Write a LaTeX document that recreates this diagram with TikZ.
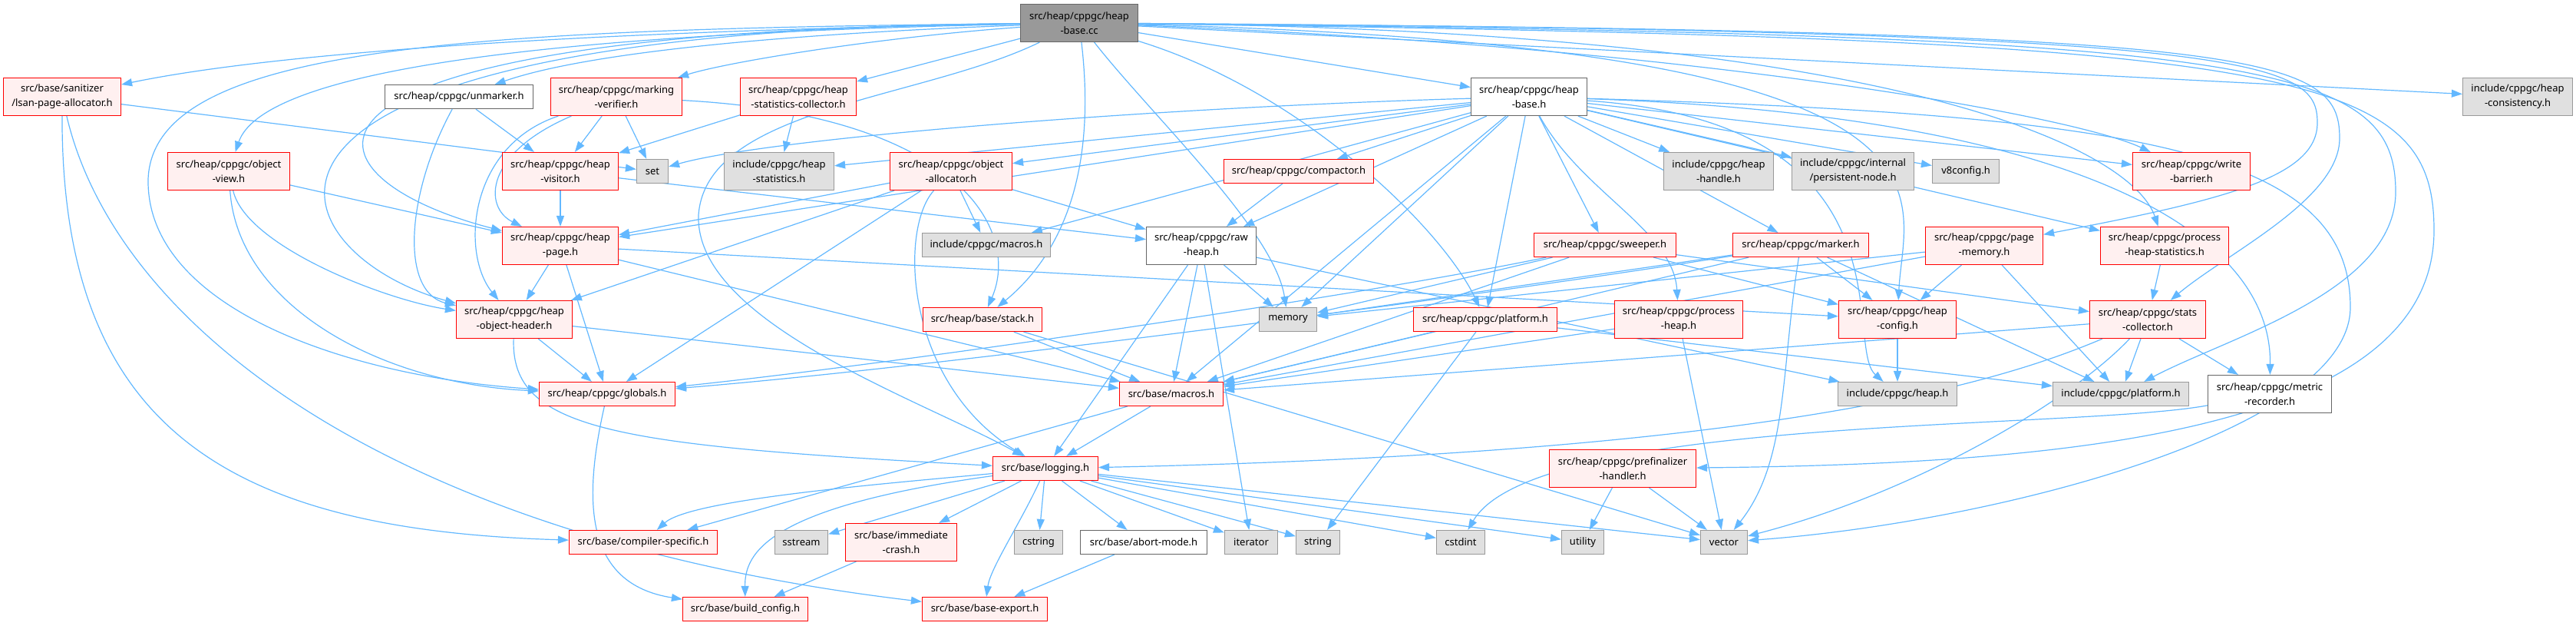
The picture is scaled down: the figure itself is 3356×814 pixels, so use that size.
\documentclass[tikz,border=0pt]{standalone}
\usepackage{fontspec}
\setmainfont{Noto Sans}
\usetikzlibrary{arrows.meta,backgrounds}
\definecolor{edgecol}{RGB}{99,184,255}
\definecolor{redline}{RGB}{255,0,0}
\definecolor{redfill}{RGB}{255,240,240}
\definecolor{grayline}{RGB}{153,153,153}
\definecolor{grayfill}{RGB}{224,224,224}
\definecolor{darkline}{RGB}{102,102,102}
\definecolor{rootfill}{RGB}{153,153,153}

\begin{document}
\begin{tikzpicture}[
  x=1pt, y=-1pt,
  >={Triangle[length=14pt,width=10pt]},
  font=\fontsize{13}{19}\selectfont,
  box/.style={rectangle,inner sep=0pt,align=center,line width=1.2pt,minimum height=31pt},
  tall/.style={minimum height=49pt},
  redbox/.style={box,draw=redline,fill=redfill},
  graybox/.style={box,draw=grayline,fill=grayfill},
  plainbox/.style={box,draw=darkline,fill=white},
  rootbox/.style={box,draw=darkline,fill=rootfill},
  dep/.style={->,draw=edgecol,line width=1.2pt},
]
\useasboundingbox (0,0) rectangle (3356,814);

% --- row 0: the file itself ---
\node[rootbox,tall,minimum width=153pt] (root) at (1406,30) {src/heap/cppgc/heap\\-base.cc};

% --- row 1 ---
\node[redbox,tall,minimum width=153pt]   (lsan)      at (81,126)   {src/base/sanitizer\\/lsan-page-allocator.h};
\node[plainbox,minimum width=193pt]      (unmarker)  at (598,126)  {src/heap/cppgc/unmarker.h};
\node[redbox,tall,minimum width=171pt]   (markver)   at (803,126)  {src/heap/cppgc/marking\\-verifier.h};
\node[redbox,tall,minimum width=151pt]   (hstatcoll) at (1040,126) {src/heap/cppgc/heap\\-statistics-collector.h};
\node[plainbox,tall,minimum width=151pt] (heapbaseh) at (1992,126) {src/heap/cppgc/heap\\-base.h};
\node[graybox,tall,minimum width=143pt]  (consist)   at (3280,126) {include/cppgc/heap\\-consistency.h};

% --- row 2 ---
\node[redbox,tall,minimum width=159pt]   (objview)   at (298,223)  {src/heap/cppgc/object\\-view.h};
\node[redbox,tall,minimum width=151pt]   (hvisitor)  at (730,223)  {src/heap/cppgc/heap\\-visitor.h};
\node[graybox,minimum width=41pt]        (set)       at (850,223)  {set};
\node[graybox,tall,minimum width=143pt]  (hstats)    at (1015,223) {include/cppgc/heap\\-statistics.h};
\node[redbox,tall,minimum width=159pt]   (objalloc)  at (1239,223) {src/heap/cppgc/object\\-allocator.h};
\node[redbox,minimum width=195pt]        (compactor) at (1692,223) {src/heap/cppgc/compactor.h};
\node[graybox,tall,minimum width=143pt]  (hhandle)   at (2239,223) {include/cppgc/heap\\-handle.h};
\node[graybox,tall,minimum width=159pt]  (pnode)     at (2414,223) {include/cppgc/internal\\/persistent-node.h};
\node[graybox,minimum width=87pt]        (v8config)  at (2561,223) {v8config.h};
\node[redbox,tall,minimum width=153pt]   (wbarrier)  at (2855,223) {src/heap/cppgc/write\\-barrier.h};

% --- row 3 ---
\node[redbox,tall,minimum width=151pt]   (hpage)     at (730,320)  {src/heap/cppgc/heap\\-page.h};
\node[graybox,minimum width=167pt]       (cmacros)   at (1285,319) {include/cppgc/macros.h};
\node[plainbox,tall,minimum width=143pt] (rawheap)   at (1565,320) {src/heap/cppgc/raw\\-heap.h};
\node[redbox,minimum width=185pt]        (sweeper)   at (2091,319) {src/heap/cppgc/sweeper.h};
\node[redbox,minimum width=177pt]        (marker)    at (2346,319) {src/heap/cppgc/marker.h};
\node[redbox,tall,minimum width=153pt]   (pagemem)   at (2585,320) {src/heap/cppgc/page\\-memory.h};
\node[redbox,tall,minimum width=167pt]   (phstats)   at (2820,320) {src/heap/cppgc/process\\-heap-statistics.h};

% --- row 4 ---
\node[redbox,tall,minimum width=151pt]   (hoh)       at (670,416)  {src/heap/cppgc/heap\\-object-header.h};
\node[redbox,minimum width=155pt]        (stack)     at (1280,416) {src/heap/base/stack.h};
\node[graybox,minimum width=75pt]        (memory)    at (1678,416) {memory};
\node[redbox,minimum width=187pt]        (cplatform) at (1935,416) {src/heap/cppgc/platform.h};
\node[redbox,tall,minimum width=167pt]   (pheap)     at (2187,416) {src/heap/cppgc/process\\-heap.h};
\node[redbox,tall,minimum width=153pt]   (hconfig)   at (2472,416) {src/heap/cppgc/heap\\-config.h};
\node[redbox,tall,minimum width=151pt]   (statscoll) at (2798,416) {src/heap/cppgc/stats\\-collector.h};

% --- row 5 ---
\node[redbox,minimum width=177pt]        (globals)   at (791,513)  {src/heap/cppgc/globals.h};
\node[redbox,minimum width=135pt]        (bmacros)   at (1526,513) {src/base/macros.h};
\node[graybox,minimum width=155pt]       (iheap)     at (2472,513) {include/cppgc/heap.h};
\node[graybox,minimum width=177pt]       (iplatform) at (2763,513) {include/cppgc/platform.h};
\node[plainbox,tall,minimum width=161pt] (metric)    at (2957,513) {src/heap/cppgc/metric\\-recorder.h};

% --- row 6 ---
\node[redbox,minimum width=137pt]        (logging)   at (1362,610) {src/base/logging.h};
\node[redbox,tall,minimum width=191pt]   (prefin)    at (2114,610) {src/heap/cppgc/prefinalizer\\-handler.h};

% --- row 7 ---
\node[redbox,minimum width=193pt]        (compspec)  at (838,706)  {src/base/compiler-specific.h};
\node[graybox,minimum width=69pt]        (sstream)   at (1044,706) {sstream};
\node[redbox,tall,minimum width=145pt]   (crash)     at (1174,706) {src/base/immediate\\-crash.h};
\node[graybox,minimum width=63pt]        (cstring)   at (1353,706) {cstring};
\node[plainbox,minimum width=165pt]      (abortmode) at (1490,706) {src/base/abort-mode.h};
\node[graybox,minimum width=69pt]        (iterator)  at (1630,706) {iterator};
\node[graybox,minimum width=57pt]        (string)    at (1717,706) {string};
\node[graybox,minimum width=63pt]        (cstdint)   at (1903,706) {cstdint};
\node[graybox,minimum width=55pt]        (utility)   at (2062,706) {utility};
\node[graybox,minimum width=61pt]        (vector)    at (2246,706) {vector};

% --- row 8 ---
\node[redbox,minimum width=163pt]        (buildcfg)  at (971,793)  {src/base/build\_config.h};
\node[redbox,minimum width=163pt]        (bexport)   at (1283,793) {src/base/base-export.h};

\begin{scope}[on background layer]
% includes of heap-base.cc
\draw[dep] (root) .. controls (900,38) and (400,60) .. (lsan);
\draw[dep] (root) .. controls (1000,45) and (760,70) .. (unmarker);
\draw[dep] (root) .. controls (1150,48) and (950,80) .. (markver);
\draw[dep] (root) -- (hstatcoll);
\draw[dep] (root) -- (heapbaseh);
\draw[dep] (root) -- (consist);
\draw[dep] (root) .. controls (650,45) and (340,100) .. (objview);
\draw[dep] (root) .. controls (300,40) and (380,230) .. (hpage);
\draw[dep] (root) .. controls (200,40) and (360,330) .. (hoh);
\draw[dep] (root) .. controls (600,38) and (200,60) .. (193,233) .. controls (190,400) and (450,490) .. (globals);
\draw[dep] (root) .. controls (1200,130) and (920,140) .. (910,280) .. controls (905,420) and (1200,520) .. (logging);
\draw[dep] (root) .. controls (1420,150) and (1420,300) .. (stack);
\draw[dep] (root) .. controls (1500,150) and (1660,300) .. (memory);
\draw[dep] (root) .. controls (1700,120) and (1880,300) .. (cplatform);
\draw[dep] (root) .. controls (2200,60) and (2700,150) .. (wbarrier);
\draw[dep] (root) .. controls (2600,60) and (2480,250) .. (hconfig);
\draw[dep] (root) .. controls (2500,40) and (2780,200) .. (phstats);
\draw[dep] (root) .. controls (2950,40) and (3019,80) .. (3019,160) .. controls (3019,230) and (2900,260) .. (pagemem);
\draw[dep] (root) .. controls (2950,40) and (3048,70) .. (3048,180) .. controls (3048,260) and (2900,330) .. (statscoll);
\draw[dep] (root) .. controls (2950,45) and (3121,80) .. (3121,250) .. controls (3121,380) and (2900,440) .. (iplatform);
\draw[dep] (root) .. controls (3000,50) and (3171,90) .. (3171,300) .. controls (3171,560) and (2700,604) .. (prefin);
% includes of heap-base.h
\draw[dep] (heapbaseh) .. controls (1500,140) and (1000,180) .. (set);
\draw[dep] (heapbaseh) -- (hstats);
\draw[dep] (heapbaseh) -- (objalloc);
\draw[dep] (heapbaseh) -- (compactor);
\draw[dep] (heapbaseh) -- (cmacros);
\draw[dep] (heapbaseh) -- (rawheap);
\draw[dep] (heapbaseh) -- (hpage);
\draw[dep] (heapbaseh) -- (memory);
\draw[dep] (heapbaseh) -- (cplatform);
\draw[dep] (heapbaseh) -- (sweeper);
\draw[dep] (heapbaseh) -- (marker);
\draw[dep] (heapbaseh) .. controls (2060,250) and (2180,300) .. (pheap);
\draw[dep] (heapbaseh) -- (hhandle);
\draw[dep] (heapbaseh) -- (pnode);
\draw[dep] (heapbaseh) -- (v8config);
\draw[dep] (heapbaseh) -- (wbarrier);
\draw[dep] (heapbaseh) -- (phstats);
\draw[dep] (heapbaseh) -- (bmacros);
\draw[dep] (heapbaseh) .. controls (2500,160) and (2400,450) .. (iheap);
\draw[dep] (heapbaseh) .. controls (2700,150) and (2960,300) .. (metric);
\draw[dep] (heapbaseh) .. controls (2800,150) and (3062,200) .. (3062,400) .. controls (3062,560) and (2600,680) .. (vector);
% first level headers
\draw[dep] (lsan) -- (set);
\draw[dep] (lsan) .. controls (80,560) and (300,690) .. (compspec);
\draw[dep] (lsan) .. controls (150,420) and (500,700) .. (bexport);
\draw[dep] (unmarker) -- (hvisitor);
\draw[dep] (unmarker) .. controls (530,250) and (520,380) .. (hoh);
\draw[dep] (markver) -- (hvisitor);
\draw[dep] (markver) -- (set);
\draw[dep] (markver) .. controls (630,200) and (630,270) .. (hpage);
\draw[dep] (markver) .. controls (610,190) and (600,330) .. (hoh);
\draw[dep] (markver) .. controls (1250,150) and (1330,300) .. (stack);
\draw[dep] (hstatcoll) -- (hstats);
\draw[dep] (hstatcoll) -- (hvisitor);
\draw[dep] (objview) -- (hpage);
\draw[dep] (objview) .. controls (320,320) and (500,390) .. (hoh);
\draw[dep] (objview) .. controls (310,400) and (500,500) .. (globals);
\draw[dep] (hvisitor) -- (hpage);
\draw[dep] (hvisitor) -- (rawheap);
\draw[dep] (objalloc) -- (hpage);
\draw[dep] (objalloc) -- (hoh);
\draw[dep] (objalloc) -- (globals);
\draw[dep] (objalloc) .. controls (1170,300) and (1180,500) .. (logging);
\draw[dep] (objalloc) -- (rawheap);
\draw[dep] (objalloc) -- (cmacros);
\draw[dep] (compactor) -- (rawheap);
% second level headers
\draw[dep] (hpage) -- (hoh);
\draw[dep] (hpage) -- (globals);
\draw[dep] (hpage) -- (hconfig);
\draw[dep] (hpage) -- (bmacros);
\draw[dep] (hoh) -- (globals);
\draw[dep] (hoh) -- (bmacros);
\draw[dep] (hoh) .. controls (665,560) and (800,580) .. (logging);
\draw[dep] (rawheap) -- (memory);
\draw[dep] (rawheap) -- (bmacros);
\draw[dep] (rawheap) -- (logging);
\draw[dep] (rawheap) -- (iterator);
\draw[dep] (rawheap) -- (iheap);
\draw[dep] (stack) -- (bmacros);
\draw[dep] (stack) -- (vector);
\draw[dep] (sweeper) -- (memory);
\draw[dep] (sweeper) -- (bmacros);
\draw[dep] (sweeper) -- (hconfig);
\draw[dep] (sweeper) -- (statscoll);
\draw[dep] (sweeper) .. controls (1800,380) and (1200,470) .. (globals);
\draw[dep] (marker) -- (memory);
\draw[dep] (marker) .. controls (1900,390) and (1200,480) .. (globals);
\draw[dep] (marker) -- (bmacros);
\draw[dep] (marker) -- (hconfig);
\draw[dep] (marker) -- (iplatform);
\draw[dep] (marker) .. controls (2320,480) and (2330,600) .. (vector);
\draw[dep] (pagemem) -- (memory);
\draw[dep] (pagemem) -- (bmacros);
\draw[dep] (pagemem) -- (hconfig);
\draw[dep] (pagemem) -- (iplatform);
\draw[dep] (phstats) -- (statscoll);
\draw[dep] (cplatform) -- (string);
\draw[dep] (cplatform) -- (bmacros);
\draw[dep] (cplatform) -- (iplatform);
\draw[dep] (pheap) -- (vector);
\draw[dep] (pheap) -- (bmacros);
\draw[dep] (hconfig) -- (iheap);
\draw[dep] (statscoll) -- (iplatform);
\draw[dep] (statscoll) -- (metric);
\draw[dep] (statscoll) -- (bmacros);
\draw[dep] (statscoll) .. controls (2600,500) and (2300,590) .. (logging);
\draw[dep] (statscoll) .. controls (2700,520) and (2500,640) .. (vector);
\draw[dep] (metric) .. controls (2700,560) and (2000,540) .. (cstdint);
\draw[dep] (globals) .. controls (760,650) and (760,760) .. (buildcfg);
% base headers
\draw[dep] (bmacros) -- (logging);
\draw[dep] (bmacros) -- (compspec);
\draw[dep] (logging) .. controls (1150,630) and (900,650) .. (compspec);
\draw[dep] (logging) -- (sstream);
\draw[dep] (logging) -- (crash);
\draw[dep] (logging) -- (cstring);
\draw[dep] (logging) -- (abortmode);
\draw[dep] (logging) -- (iterator);
\draw[dep] (logging) -- (string);
\draw[dep] (logging) -- (cstdint);
\draw[dep] (logging) -- (utility);
\draw[dep] (logging) -- (vector);
\draw[dep] (logging) .. controls (1000,660) and (970,720) .. (buildcfg);
\draw[dep] (logging) .. controls (1330,680) and (1290,740) .. (bexport);
\draw[dep] (crash) -- (buildcfg);
\draw[dep] (abortmode) -- (bexport);
\draw[dep] (prefin) -- (utility);
\draw[dep] (prefin) -- (vector);
\end{scope}
\end{tikzpicture}
\end{document}
